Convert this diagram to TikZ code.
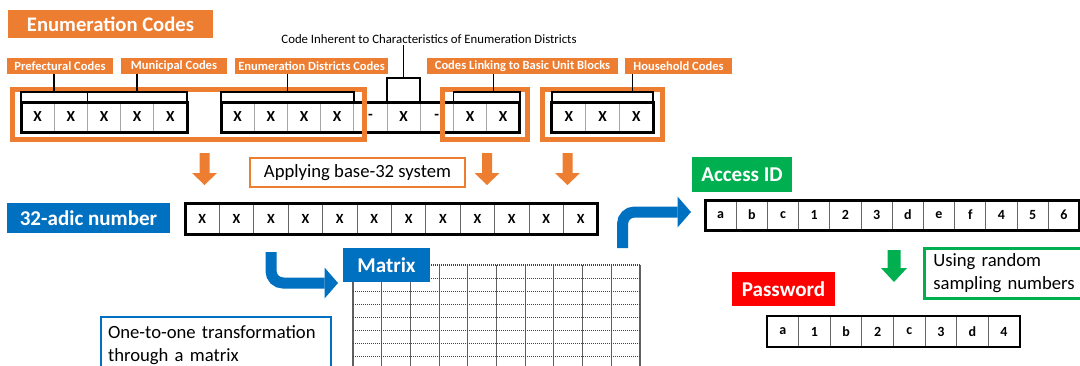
\documentclass[tikz,border=0pt]{standalone}
\usepackage{fontspec}
\setmainfont{Carlito}
\usetikzlibrary{arrows.meta}
\definecolor{codeorange}{RGB}{237,125,49}
\definecolor{codeblue}{RGB}{0,112,192}
\definecolor{codegreen}{RGB}{0,176,80}
\definecolor{codered}{RGB}{255,0,0}
\tikzset{
  titlebox/.style={fill=codeorange, text=white, font=\fontsize{15.5}{18}\selectfont\bfseries,
    inner sep=0pt, minimum width=153.75pt, minimum height=21pt},
  tagbox/.style={fill=codeorange, text=white, font=\fontsize{9.4}{11}\selectfont\bfseries,
    inner sep=0pt, minimum height=12pt},
  headbox/.style={fill=#1, text=white, font=\fontsize{15.8}{18}\selectfont\bfseries, inner sep=0pt},
  notebox/.style={fill=white, draw=#1, font=\fontsize{14}{17}\selectfont, text=black,
    align=left, anchor=north west},
  topcell/.style={draw=gray!70, line width=0.5pt, inner sep=0pt, outer sep=0pt,
    minimum width=24.9pt, minimum height=22.5pt, font=\fontsize{11.5}{13}\selectfont\bfseries},
  lowcell/.style={draw=gray!80!black, line width=0.6pt, inner sep=0pt, outer sep=0pt,
    font=\fontsize{10.5}{12}\selectfont\bfseries},
  rowframe/.style={draw=black, line width=2.25pt},
  orangeframe/.style={draw=codeorange, line width=3.75pt},
  brk/.style={draw=black, line width=1.1pt},
  bentarrow/.style={draw=codeblue, line width=8.25pt, rounded corners=9pt,
    -{Triangle[length=10pt,width=23pt,line width=0pt]}},
  orangedown/.pic={\fill[pic actions] (-5,0) -- (5,0) -- (5,20) -- (12.5,20) -- (0,32)
    -- (-12.5,20) -- (-5,20) -- cycle;},
  greendown/.pic={\fill[pic actions] (-6.5,0) -- (6.5,0) -- (6.5,18) -- (13,18) -- (0,32)
    -- (-13,18) -- (-6.5,18) -- cycle;},
}
\begin{document}
\begin{tikzpicture}[x=0.75pt,y=-0.75pt]
\useasboundingbox (0,0) rectangle (1080,365);
\fill[white] (0,0) rectangle (1080,365);
\clip (0,0) rectangle (1080,365);

% ---------- headings and code tags ----------
\node[titlebox] (title) at (110.5,24) {Enumeration Codes};
\node[tagbox, minimum width=79.5pt] (tagPref) at (60,66) {Prefectural Codes};
\node[tagbox, minimum width=79.5pt] (tagMuni) at (174,66) {Municipal Codes};
\node[tagbox, minimum width=114.75pt] (tagEnum) at (311.5,66) {Enumeration Districts Codes};
\node[tagbox, minimum width=143.25pt] (tagLink) at (522.5,66) {Codes Linking to Basic Unit Blocks};
\node[tagbox, minimum width=80.25pt] (tagHouse) at (678.5,66) {Household Codes};
\node[font=\fontsize{9.6}{11}\selectfont, inner sep=1pt] (inherent) at (429,39)
  {Code Inherent to Characteristics of Enumeration Districts};

% ---------- enumeration code cells ----------
\foreach \t [count=\i] in {X,X,X,X,X}
  \node[topcell] (a\i) at ({21+33.2*(\i-0.5)},117) {\t};
\foreach \t [count=\i] in {X,X,X,X,-,X,-,X,X}
  \node[topcell] (b\i) at ({221+33.2*(\i-0.5)},117) {\t};
\foreach \t [count=\i] in {X,X,X}
  \node[topcell, minimum width=25.3pt] (c\i) at ({552+33.7*(\i-0.5)},117) {\t};
\draw[rowframe] (a1.north west) rectangle (a5.south east);
\draw[rowframe] (b1.north west) rectangle (b9.south east);
\draw[rowframe] (c1.north west) rectangle (c3.south east);

% orange group frames
\draw[orangeframe] (12.5,89.5) rectangle (364,139);
\draw[orangeframe] (442,89.5) rectangle (527,139.5);
\draw[orangeframe] (542,89.5) rectangle (662,139.5);

% ---------- brackets from tags to cells ----------
\coordinate (lvl) at (0,92);
\coordinate (lvlB) at (0,78);
\draw[brk] (a1.north west) -- (a1.north west |- lvl) -- (a2.north east |- lvl) -- (a2.north east);
\draw[brk] (a1.north east |- tagPref.south) -- (a1.north east |- lvl);
\draw[brk] (a3.north west) -- (a3.north west |- lvl) -- (a5.north east |- lvl) -- (a5.north east);
\draw[brk] (a4.north |- tagMuni.south) -- (a4.north |- lvl);
\draw[brk] (b1.north west) -- (b1.north west |- lvl) -- (b4.north east |- lvl) -- (b4.north east);
\draw[brk] (b2.north east |- tagEnum.south) -- (b2.north east |- lvl);
\draw[brk] (b6.north west) -- (b6.north west |- lvlB) -- (b6.north east |- lvlB) -- (b6.north east);
\draw[brk] (b6.north |- inherent.south) -- (b6.north |- lvlB);
\draw[brk] (b8.north west) -- (b8.north west |- lvl) -- (b9.north east |- lvl) -- (b9.north east);
\draw[brk] ([xshift=5.25pt]b8.north east |- tagLink.south) -- ([xshift=5.25pt]b8.north east |- lvl);
\draw[brk] (c1.north west) -- (c1.north west |- lvl) -- (c3.north east |- lvl) -- (c3.north east);
\draw[brk] ([xshift=-3pt]c3.north |- tagHouse.south) -- ([xshift=-3pt]c3.north |- lvl);

% ---------- base-32 conversion ----------
\pic[fill=codeorange] at (204.5,153) {orangedown};
\pic[fill=codeorange] at (487,153) {orangedown};
\pic[fill=codeorange] at (567.5,153) {orangedown};
\node[draw=codeorange, line width=1.9pt, fill=white, minimum width=161.25pt, minimum height=21.75pt,
  inner sep=0pt, font=\fontsize{14}{16}\selectfont] (base32) at (357.5,172.5) {Applying base-32 system};

\node[headbox=codeblue, minimum width=122.25pt, minimum height=22.5pt] (adic) at (88.5,218) {32-adic number};
\foreach \i in {1,...,12}
  \node[lowcell, minimum width=25.8pt, minimum height=23.25pt] (d\i) at ({185+34.4*(\i-0.5)},218.5) {X};
\draw[rowframe] (d1.north west) rectangle (d12.south east);

% ---------- matrix ----------
\foreach \k in {0,...,10}
  \draw[gray!75!black, line width=0.8pt] ({353+28.7*\k},265) -- ({353+28.7*\k},368);
\foreach \k in {0,...,7}
  \draw[gray!50!black, line width=0.9pt, dash pattern=on 0.9pt off 0.6pt] (353,{265+13.1*\k}) -- (640,{265+13.1*\k});
\node[headbox=codeblue, minimum width=65.25pt, minimum height=25.5pt] (mtx) at (386.5,265) {Matrix};

\coordinate (downStart) at (271,252);
\coordinate (downTip) at (338,283);
\draw[bentarrow] (downStart) |- (downTip);

\node[notebox=codeblue, line width=1.5pt, text width=162pt, inner xsep=5.25pt, inner ysep=3.5pt,
  minimum height=42pt] (onetoone) at (100,316) {One-to-one transformation\\through a matrix};

% ---------- access ID and password ----------
\coordinate (upStart) at (622.5,248);
\coordinate (upTip) at (691,212);
\draw[bentarrow] (upStart) |- (upTip);

\node[headbox=codegreen, minimum width=75pt, minimum height=26.25pt] (access) at (742,174.5) {Access ID};
\foreach \t [count=\i] in {a,b,c,1,2,3,d,e,f,4,5,6}
  \node[lowcell, minimum width=23.4pt, minimum height=22.5pt] (e\i) at ({705+31.2*(\i-0.5)},215) {\t};
\draw[rowframe] (e1.north west) rectangle (e12.south east);

\pic[fill=codegreen] at (894,250) {greendown};
\node[notebox=codegreen, line width=1.9pt, text width=108pt, inner xsep=6.75pt,
  minimum height=37.5pt] (random) at (923,247) {Using random\\sampling numbers};

\node[headbox=codered, minimum width=77.25pt, minimum height=25.5pt] (password) at (783.5,289) {Password};
\foreach \t [count=\i] in {a,1,b,2,c,3,d,4}
  \node[lowcell, minimum width=23.7pt, minimum height=23.25pt] (f\i) at ({767+31.6*(\i-0.5)},331.5) {\t};
\draw[rowframe, line width=1.9pt] (f1.north west) rectangle (f8.south east);
\end{tikzpicture}
\end{document}
